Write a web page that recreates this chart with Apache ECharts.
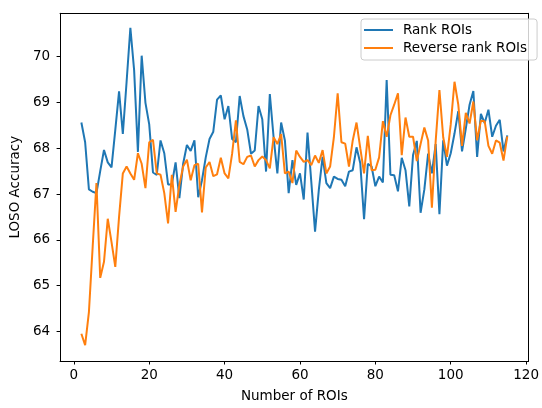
<!DOCTYPE html>
<html lang="en">
<head>
    <meta charset="UTF-8">
    <title>LOSO Accuracy</title>
    <script src="https://cdn.jsdelivr.net/npm/echarts@6.0.0/dist/echarts.min.js"></script>
</head>
<body style="margin:0">
    <div id="main" style="width: 542px;height:408px;"></div>
    <script type="text/javascript">
        // accuracy for 2..115 ROIs
        const rankRois = [
            68.56, 68.13, 67.10, 67.05, 67.02, 67.50, 67.96, 67.69, 67.58, 68.40,
            69.24, 68.31, 69.45, 70.63, 69.70, 67.92, 70.02, 68.99, 68.52, 67.47,
            67.42, 68.17, 67.89, 67.21, 67.21, 67.69, 66.91, 67.66, 68.07, 67.94,
            68.17, 66.93, 67.30, 67.80, 68.20, 68.36, 69.06, 69.15, 68.63, 68.92,
            68.20, 68.13, 69.14, 68.70, 68.41, 67.88, 67.95, 68.92, 68.63, 67.49,
            69.18, 68.24, 67.45, 68.56, 68.17, 67.02, 67.74, 67.20, 67.45, 66.88,
            68.34, 67.27, 66.18, 67.09, 67.81, 67.24, 67.13, 67.38, 67.33, 67.31,
            67.17, 67.49, 67.52, 68.02, 67.67, 66.45, 67.66, 67.60, 67.17, 67.38,
            67.25, 69.49, 67.42, 67.41, 67.06, 67.79, 67.52, 66.73, 67.85, 68.16,
            66.59, 67.10, 67.88, 67.45, 68.09, 66.56, 68.17, 67.62, 67.89, 68.32,
            68.81, 67.93, 68.43, 68.95, 69.25, 67.81, 68.75, 68.55, 68.84, 68.25,
            68.49, 68.62, 67.93, 68.28
        ];
        const reverseRankRois = [
            63.95, 63.70, 64.42, 65.85, 67.24, 65.17, 65.52, 66.46, 65.95, 65.41,
            66.50, 67.45, 67.60, 67.45, 67.31, 67.89, 67.66, 67.13, 68.13, 68.18,
            67.45, 67.42, 67.02, 66.36, 67.42, 66.61, 67.20, 67.60, 67.75, 67.30,
            67.63, 67.66, 66.60, 67.58, 67.70, 67.39, 67.43, 67.79, 67.45, 67.34,
            67.88, 68.61, 67.70, 67.65, 67.81, 67.84, 67.60, 67.74, 67.82, 67.74,
            67.56, 68.24, 68.09, 68.31, 67.45, 67.49, 67.24, 67.95, 67.81, 67.70,
            67.74, 67.63, 67.84, 67.68, 67.96, 67.45, 67.60, 68.24, 69.20, 68.13,
            68.10, 67.60, 68.17, 68.56, 68.00, 67.45, 68.27, 67.52, 67.53, 67.80,
            68.59, 68.25, 68.72, 68.95, 69.20, 67.85, 68.67, 68.25, 68.25, 67.72,
            68.09, 68.45, 68.17, 66.70, 68.15, 69.27, 68.24, 67.81, 68.52, 69.45,
            68.95, 68.05, 68.77, 68.54, 69.02, 68.17, 68.60, 68.59, 68.05, 67.88,
            68.17, 68.12, 67.73, 68.26
        ];
        const roiCounts = rankRois.map((_, i) => i + 2);
        const xTicks = [0, 20, 40, 60, 80, 100, 120];
        const yTicks = [64, 65, 66, 67, 68, 69, 70];

        const font = 'DejaVu Sans';
        const fs = 13.5;
        const xRange = { min: -3.65, max: 120.65 };
        const yRange = { min: 63.355, max: 70.945 };

        // plain frame line for the top and right sides
        const frame = {
            type: 'value',
            axisLine: { show: true, onZero: false, lineStyle: { color: '#000' } },
            axisTick: { show: false },
            axisLabel: { show: false },
            splitLine: { show: false }
        };

        let options = {
            animation: false,
            grid: { left: 60, top: 13.3, right: 5.5, bottom: 39.7 },
            legend: {
                orient: 'vertical',
                left: 361, top: 19,
                icon: 'rect',
                itemWidth: 29, itemHeight: 2, itemGap: 4,
                padding: [4, 10, 5, 3],
                backgroundColor: 'rgba(255,255,255,0.8)',
                borderColor: '#cccccc', borderWidth: 1, borderRadius: 3,
                textStyle: { fontFamily: font, fontSize: fs, color: '#000', padding: [0, 0, 0, 5] },
                data: ['Rank ROIs', 'Reverse rank ROIs']
            },
            xAxis: [{
                type: 'value',
                ...xRange,
                name: 'Number of ROIs',
                nameLocation: 'middle',
                nameGap: 28,
                nameTextStyle: { fontFamily: font, fontSize: fs, color: '#000' },
                splitLine: { show: false },
                axisLine: { show: true, onZero: false, lineStyle: { color: '#000' } },
                axisTick: { show: true, length: 3.5, customValues: xTicks, lineStyle: { color: '#000' } },
                axisLabel: { customValues: xTicks, margin: 7.5, fontFamily: font, fontSize: fs, color: '#000' }
            }, { ...frame, ...xRange, position: 'top' }],
            yAxis: [{
                type: 'value',
                ...yRange,
                name: 'LOSO Accuracy',
                nameLocation: 'middle',
                nameGap: 33,
                nameTextStyle: { fontFamily: font, fontSize: fs, color: '#000' },
                splitLine: { show: false },
                axisLine: { show: true, onZero: false, lineStyle: { color: '#000' } },
                axisTick: { show: true, length: 3.5, customValues: yTicks, lineStyle: { color: '#000' } },
                axisLabel: { customValues: yTicks, margin: 10, fontFamily: font, fontSize: fs, color: '#000' }
            }, { ...frame, ...yRange, position: 'right' }],
            series: [
                {
                    name: 'Rank ROIs',
                    type: 'line',
                    symbol: 'none',
                    color: '#1f77b4',
                    lineStyle: { width: 2 },
                    data: roiCounts.map((n, i) => [n, rankRois[i]])
                },
                {
                    name: 'Reverse rank ROIs',
                    type: 'line',
                    symbol: 'none',
                    color: '#ff7f0e',
                    lineStyle: { width: 2 },
                    data: roiCounts.map((n, i) => [n, reverseRankRois[i]])
                }
            ]
        };

        let myChart = echarts.init(document.getElementById('main'));
        myChart.setOption(options);
    </script>
</body>
</html>
